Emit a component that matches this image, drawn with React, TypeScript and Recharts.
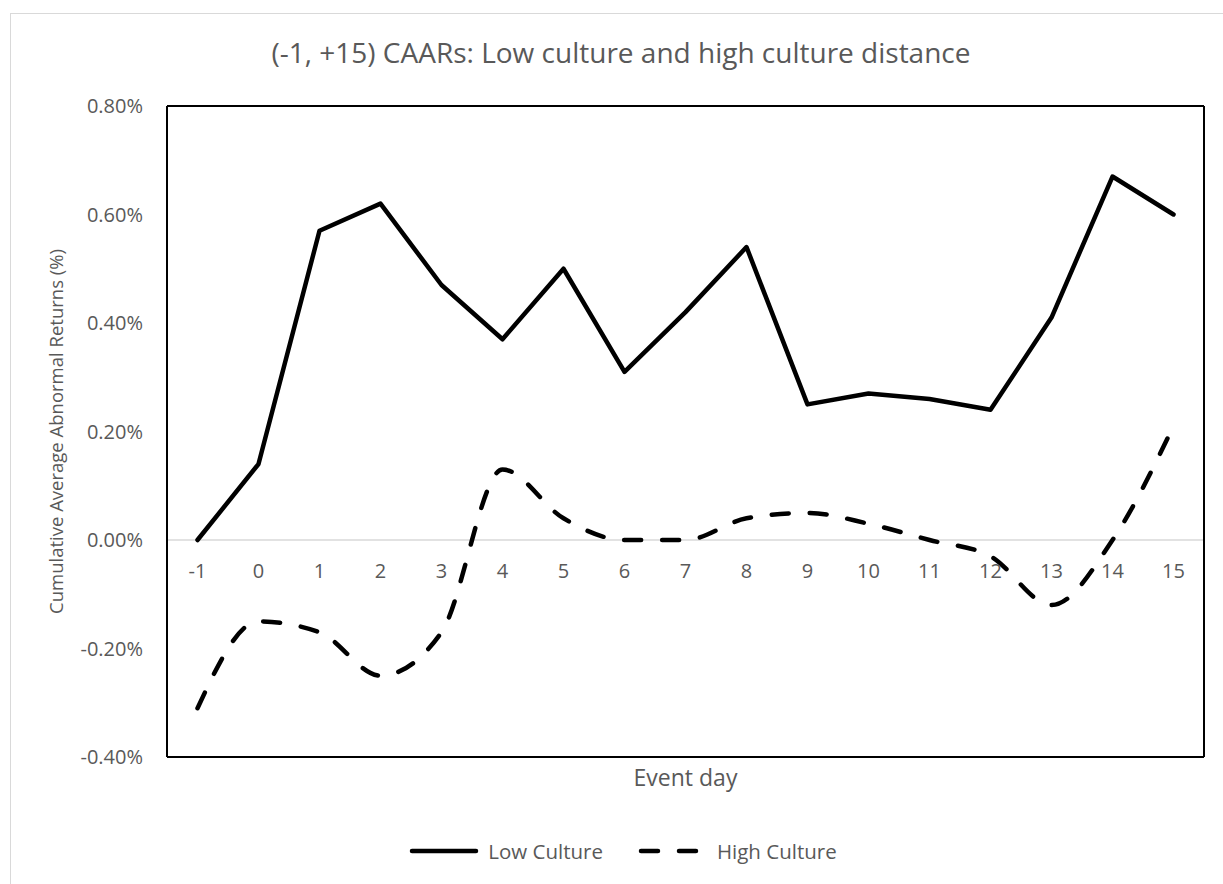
import { LineChart, Line, XAxis, YAxis, ReferenceLine, Legend } from 'recharts'

const days = ['-1', '0', '1', '2', '3', '4', '5', '6', '7', '8', '9', '10', '11', '12', '13', '14', '15']
const lowCulture = [0.0, 0.14, 0.57, 0.62, 0.47, 0.37, 0.5, 0.31, 0.42, 0.54, 0.25, 0.27, 0.26, 0.24, 0.41, 0.67, 0.6]
const highCulture = [-0.31, -0.15, -0.17, -0.25, -0.17, 0.13, 0.04, 0.0, 0.0, 0.04, 0.05, 0.03, 0.0, -0.03, -0.12, 0.0, 0.21]
const yTicks = [-0.4, -0.2, 0, 0.2, 0.4, 0.6, 0.8]

const data = days.map((day, i) => ({ day, low: lowCulture[i], high: highCulture[i] }))

const FONT = '"Open Sans", sans-serif'
const GREY = '#595959'
const DASH = '17 21'

// x labels sit next to the zero line, like Excel does, not at the bottom of the box
const DayTick = ({ x, y, payload }: any) => (
    <text x={x} y={y} dy={-179} textAnchor="middle" fill={GREY} fontSize={20} fontFamily={FONT}>
        {payload.value}
    </text>
)

const LegendContent = () => (
    <div style={{ display: 'flex', justifyContent: 'center', alignItems: 'center', fontFamily: FONT, fontSize: 20.5, color: GREY }}>
        <svg width={70} height={10}>
            <line x1={3} y1={5} x2={67} y2={5} stroke="#000" strokeWidth={4.5} strokeLinecap="round" />
        </svg>
        <span style={{ marginLeft: 9 }}>Low Culture</span>
        <svg width={70} height={10} style={{ marginLeft: 35 }}>
            <line x1={3} y1={5} x2={67} y2={5} stroke="#000" strokeWidth={4.5} strokeLinecap="round" strokeDasharray={DASH} />
        </svg>
        <span style={{ marginLeft: 9 }}>High Culture</span>
    </div>
)

export default function App() {
    return (
        <div style={{ position: 'absolute', left: 0, top: 0, width: 1223, height: 884, overflow: 'hidden', background: '#fff' }}>
            <div
                style={{
                    position: 'absolute',
                    left: 10,
                    top: 13,
                    width: 1213,
                    height: 871,
                    borderLeft: '1.5px solid #d9d9d9',
                    borderTop: '1.5px solid #d9d9d9',
                }}
            />
            <div
                style={{
                    position: 'absolute',
                    left: 10,
                    width: 1222,
                    top: 33,
                    textAlign: 'center',
                    fontFamily: FONT,
                    fontSize: 28,
                    color: GREY,
                }}
            >
                (-1, +15) CAARs: Low culture and high culture distance
            </div>
            <div style={{ position: 'absolute', left: 0, top: 0 }}>
                <LineChart width={1223} height={884} data={data} margin={{ top: 105, right: 18, bottom: 87, left: 0 }}>
                    <XAxis
                        dataKey="day"
                        height={40}
                        padding={{ left: 30.5, right: 30.5 }}
                        tickSize={0}
                        tickMargin={0}
                        tick={<DayTick />}
                        axisLine={{ stroke: '#000', strokeWidth: 2 }}
                        tickLine={false}
                        interval={0}
                        label={{
                            value: 'Event day',
                            position: 'insideBottom',
                            offset: 11,
                            fill: GREY,
                            fontSize: 23,
                            fontFamily: FONT,
                        }}
                    />
                    <XAxis
                        xAxisId="top"
                        dataKey="day"
                        orientation="top"
                        height={1}
                        padding={{ left: 30.5, right: 30.5 }}
                        tick={false}
                        tickLine={false}
                        axisLine={{ stroke: '#000', strokeWidth: 2 }}
                    />
                    <YAxis
                        width={167}
                        domain={[-0.4, 0.8]}
                        ticks={yTicks}
                        tickFormatter={(v: number) => v.toFixed(2) + '%'}
                        tickSize={0}
                        tickMargin={24}
                        tickLine={false}
                        axisLine={{ stroke: '#000', strokeWidth: 2 }}
                        tick={{ fill: GREY, fontSize: 20, fontFamily: FONT }}
                        label={{
                            value: 'Cumulative Average Abnormal Returns (%)',
                            angle: -90,
                            position: 'insideLeft',
                            offset: 56,
                            fill: GREY,
                            fontSize: 18.5,
                            fontFamily: FONT,
                            style: { textAnchor: 'middle' },
                        }}
                    />
                    <YAxis
                        yAxisId="right"
                        orientation="right"
                        width={1}
                        domain={[0, 1]}
                        tick={false}
                        tickLine={false}
                        axisLine={{ stroke: '#000', strokeWidth: 2 }}
                    />
                    <ReferenceLine y={0} stroke="#d9d9d9" strokeWidth={1.5} />
                    <Legend content={<LegendContent />} wrapperStyle={{ left: 10, width: 1226, top: 837, height: 0 }} />
                    <Line
                        type="linear"
                        dataKey="low"
                        name="Low Culture"
                        stroke="#000"
                        strokeWidth={4.5}
                        strokeLinejoin="round"
                        strokeLinecap="round"
                        dot={false}
                        activeDot={false}
                        isAnimationActive={false}
                    />
                    <Line
                        type="monotone"
                        dataKey="high"
                        name="High Culture"
                        stroke="#000"
                        strokeWidth={4.5}
                        strokeDasharray={DASH}
                        strokeLinecap="round"
                        dot={false}
                        activeDot={false}
                        isAnimationActive={false}
                    />
                </LineChart>
            </div>
        </div>
    )
}
